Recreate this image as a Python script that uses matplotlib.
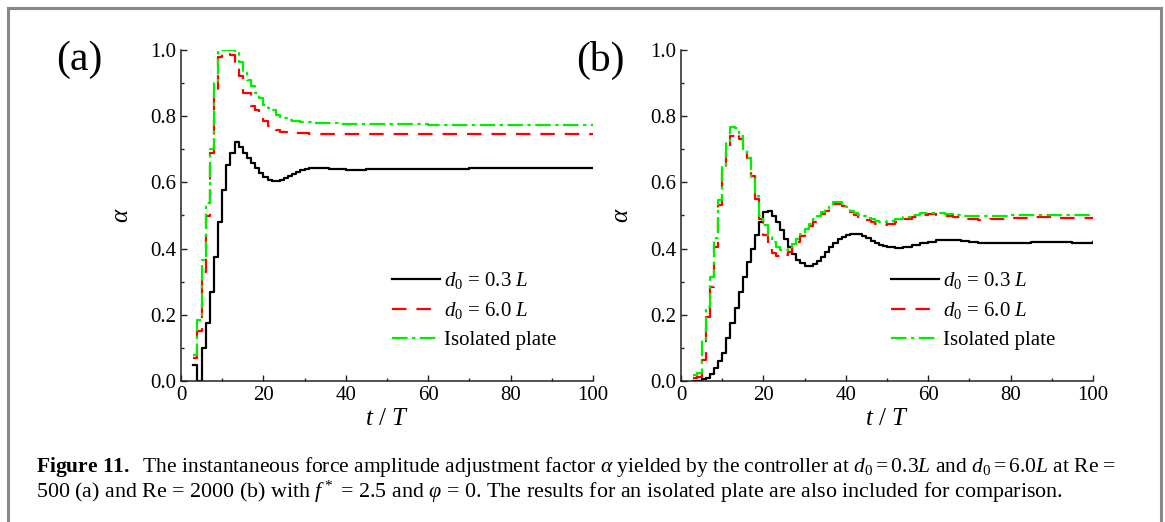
import numpy as np
import matplotlib
matplotlib.use('Agg')
from matplotlib import pyplot as plt
from matplotlib.lines import Line2D
from matplotlib.ticker import MultipleLocator

# ---- data (alpha vs t/T) ----
# panel (a), Re = 500
t_a = [3, 4, 5, 6, 7, 8, 9, 10, 11, 12, 13, 14, 15, 16, 17, 18, 19, 20, 21, 22,
       23, 24, 25, 26, 27, 28, 29, 30, 31, 32, 34, 36, 38, 40, 45, 50, 60, 70, 80, 90, 100]
a_near = [0.048, 0.0, 0.099, 0.174, 0.27, 0.376, 0.481, 0.577, 0.653, 0.688, 0.721, 0.708,
          0.688, 0.673, 0.658, 0.643, 0.629, 0.617, 0.608, 0.604, 0.604, 0.607, 0.612, 0.618,
          0.625, 0.631, 0.636, 0.640, 0.642, 0.643, 0.642, 0.640, 0.639, 0.638, 0.639, 0.640,
          0.641, 0.642, 0.643, 0.643, 0.643]
a_far = [0.07, 0.15, 0.33, 0.50, 0.69, 0.88, 0.98, 0.99, 0.99, 0.985, 0.95, 0.92, 0.87, 0.87,
         0.83, 0.82, 0.795, 0.785, 0.77, 0.763, 0.758, 0.753, 0.751, 0.750, 0.749, 0.749, 0.748,
         0.748, 0.747, 0.747, 0.747, 0.747, 0.746, 0.746, 0.746, 0.746, 0.746, 0.746, 0.746,
         0.746, 0.746]
a_iso = [0.078, 0.185, 0.365, 0.537, 0.70, 0.90, 0.995, 1.0, 1.0, 1.0, 0.99, 0.965, 0.935,
         0.909, 0.89, 0.87, 0.854, 0.834, 0.826, 0.819, 0.804, 0.798, 0.794, 0.79, 0.786,
         0.784, 0.783, 0.782, 0.781, 0.780, 0.779, 0.778, 0.777, 0.776, 0.775, 0.775, 0.774,
         0.774, 0.773, 0.773, 0.773]

# panel (b), Re = 2000
t_b = [3, 4, 5, 6, 7, 8, 9, 10, 11, 12, 13, 14, 15, 16, 17, 18, 19, 20, 21, 22, 23, 24,
       25, 26, 27, 28, 29, 30, 31, 32, 33, 34, 35, 36, 37, 38, 39, 40, 41, 42, 43, 44, 45,
       46, 47, 48, 49, 50, 52, 54, 56, 58, 60, 62, 64, 66, 68, 70, 72, 75, 80, 85, 90, 95, 100]
b_near = [0.0, 0.0, 0.005, 0.008, 0.02, 0.04, 0.06, 0.085, 0.13, 0.175, 0.22, 0.27, 0.315,
          0.36, 0.40, 0.44, 0.48, 0.51, 0.515, 0.50, 0.48, 0.455, 0.43, 0.405, 0.385, 0.365,
          0.355, 0.347, 0.346, 0.352, 0.362, 0.375, 0.39, 0.405, 0.418, 0.428, 0.436, 0.441,
          0.444, 0.445, 0.443, 0.438, 0.431, 0.424, 0.417, 0.411, 0.407, 0.404, 0.402, 0.404,
          0.41, 0.416, 0.421, 0.425, 0.427, 0.426, 0.423, 0.42, 0.417, 0.416, 0.418, 0.42,
          0.419, 0.418, 0.419]
b_far = [0.01, 0.012, 0.063, 0.194, 0.285, 0.406, 0.532, 0.637, 0.70, 0.74, 0.749, 0.73,
         0.70, 0.675, 0.62, 0.55, 0.49, 0.44, 0.41, 0.386, 0.378, 0.375, 0.38, 0.39, 0.405,
         0.42, 0.437, 0.452, 0.467, 0.48, 0.493, 0.505, 0.515, 0.527, 0.535, 0.535, 0.53,
         0.52, 0.51, 0.502, 0.495, 0.49, 0.485, 0.48, 0.475, 0.472, 0.471, 0.473, 0.48,
         0.488, 0.496, 0.502, 0.504, 0.502, 0.498, 0.494, 0.49, 0.488, 0.487, 0.488, 0.492,
         0.494, 0.493, 0.491, 0.491]
b_iso = [0.018, 0.025, 0.124, 0.225, 0.315, 0.431, 0.547, 0.653, 0.72, 0.768, 0.765, 0.74,
         0.70, 0.673, 0.617, 0.56, 0.50, 0.47, 0.436, 0.42, 0.405, 0.397, 0.395, 0.40, 0.415,
         0.43, 0.445, 0.46, 0.475, 0.488, 0.50, 0.51, 0.52, 0.532, 0.54, 0.542, 0.535, 0.525,
         0.515, 0.508, 0.502, 0.497, 0.493, 0.488, 0.484, 0.481, 0.481, 0.483, 0.488, 0.495,
         0.502, 0.507, 0.509, 0.508, 0.505, 0.502, 0.50, 0.499, 0.498, 0.499, 0.502, 0.503,
         0.503, 0.502, 0.502]

labels = [r'$d_0$ = 0.3 $L$', r'$d_0$ = 6.0 $L$', 'Isolated plate']

plt.rcParams['font.family'] = ['Liberation Serif', 'DejaVu Serif']
plt.rcParams['mathtext.fontset'] = 'custom'
plt.rcParams['mathtext.rm'] = 'Liberation Serif'
plt.rcParams['mathtext.it'] = 'Liberation Serif:italic'
plt.rcParams['mathtext.bf'] = 'Liberation Serif:bold'

fig = plt.figure(figsize=(11.65, 5.22), dpi=100)
W, H = 1165.0, 522.0


def panel(x0, t, near, far, iso, tag, tagx, legx):
    ax = fig.add_axes([x0 / W, 1 - 381 / H, 412 / W, 331 / H])
    ax.step(t, near, where='post', color='black', lw=1.6, label=labels[0])
    ax.step(t, far, where='post', color='#ff0000', lw=1.6, dashes=(6.5, 4.5), label=labels[1])
    ax.step(t, iso, where='post', color='#00ee00', lw=1.6, dashes=(7, 2, 1.5, 2), label=labels[2])
    ax.set_xlim(0, 100)
    ax.set_ylim(0, 1.0)
    ax.xaxis.set_major_locator(MultipleLocator(20))
    ax.xaxis.set_minor_locator(MultipleLocator(10))
    ax.yaxis.set_major_locator(MultipleLocator(0.2))
    ax.yaxis.set_minor_locator(MultipleLocator(0.1))
    ax.yaxis.set_major_formatter(matplotlib.ticker.FormatStrFormatter('%.1f'))
    for s in ['top', 'right']:
        ax.spines[s].set_visible(False)
    for s in ['left', 'bottom']:
        ax.spines[s].set_linewidth(1.1)
        ax.spines[s].set_color('#222222')
    ax.tick_params(which='both', direction='in', color='#222222', width=1.0, labelsize=15)
    ax.tick_params(which='major', length=4.5)
    ax.tick_params(which='minor', length=2.5)
    ax.set_xlabel(r'$t$ / $T$', fontsize=18, labelpad=2)
    ax.set_ylabel(r'$\alpha$', fontsize=18, labelpad=12)
    ax.legend(loc='upper left', bbox_to_anchor=(legx, 0.335), frameon=False, fontsize=15,
              handlelength=2.3, handletextpad=0.2, labelspacing=0.45, borderpad=0,
              borderaxespad=0)
    fig.text(tagx / W, 1 - 60 / H, tag, fontsize=30, ha='center', va='center')
    return ax


panel(181, t_a, a_near, a_far, a_iso, '(a)', 79, 0.513)
panel(681, t_b, b_near, b_far, b_iso, '(b)', 600, 0.51)

# page frame
for xs, ys in [([8, 1161], [8, 8]), ([8, 8], [8, 522]), ([1161, 1161], [8, 522])]:
    fig.add_artist(Line2D([x / W for x in xs], [1 - y / H for y in ys],
                          color='#888888', lw=2.2, transform=fig.transFigure))

line1 = (r'$\mathbf{Figure\ 11.}$  The instantaneous force amplitude adjustment factor $\alpha$'
         r' yielded by the controller at $d_0 = 0.3L$ and $d_0 = 6.0L$ at Re =')
line2 = (r'500 (a) and Re = 2000 (b) with $f^*$ = 2.5 and $\varphi$ = 0. The results for an'
         r' isolated plate are also included for comparison.')
fig.text(36 / W, 1 - 467 / H, line1, fontsize=15.5, va='center', ha='left')
fig.text(36 / W, 1 - 492 / H, line2, fontsize=15.8, va='center', ha='left')

fig.savefig('out.png', dpi=100)
